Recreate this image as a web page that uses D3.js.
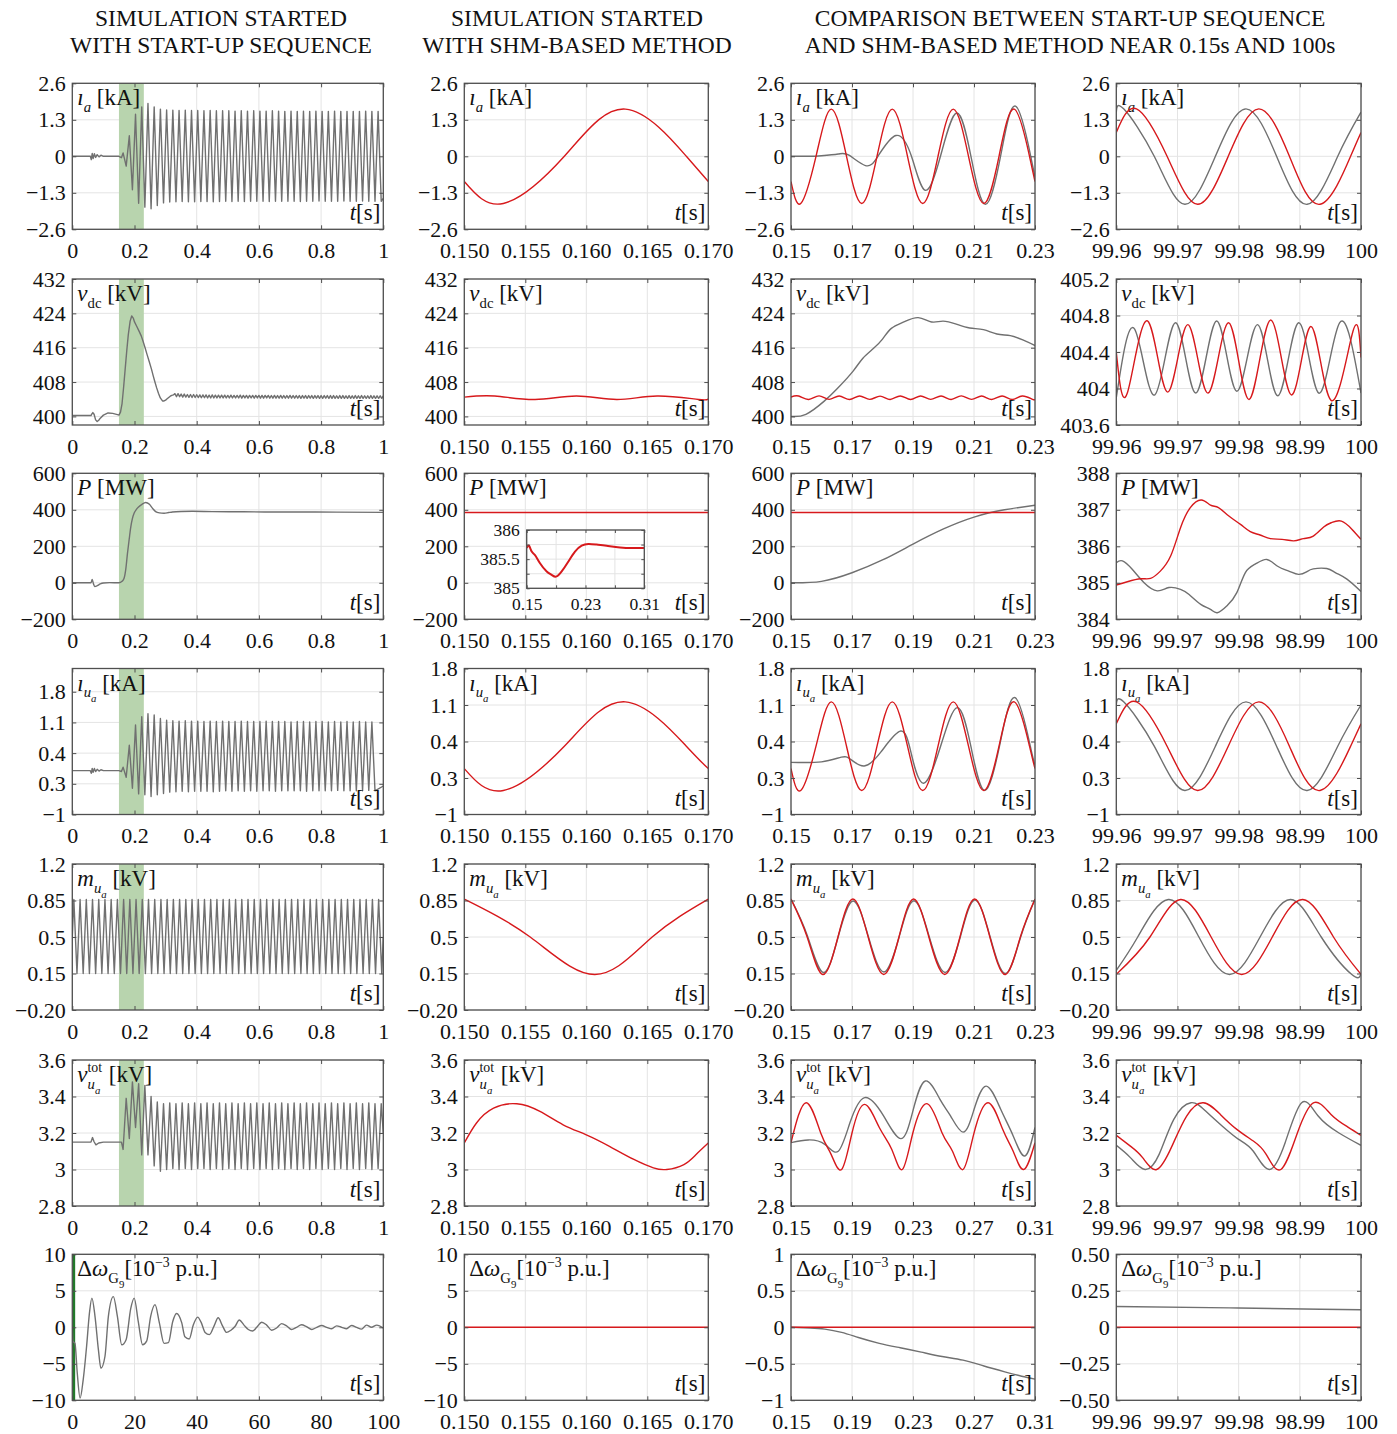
<!DOCTYPE html>
<html>
<head>
<meta charset="utf-8">
<script src="https://cdn.jsdelivr.net/npm/d3@7"></script>
<style>
  body { margin: 0; background: #fff; }
</style>
</head>
<body>
<div id="chart"></div>
<script>
// ---------- tick values and tick labels ----------
const xStartTicks = [0, 0.2, 0.4, 0.6, 0.8, 1]
const xStartLabels = ['0', '0.2', '0.4', '0.6', '0.8', '1']
const xLongTicks = [0, 20, 40, 60, 80, 100]
const xLongLabels = ['0', '20', '40', '60', '80', '100']
const xShmTicks = [0.15, 0.155, 0.16, 0.165, 0.17]
const xShmLabels = ['0.150', '0.155', '0.160', '0.165', '0.170']
const xCmpTicks = [0.15, 0.17, 0.19, 0.21, 0.23]
const xCmpLabels = ['0.15', '0.17', '0.19', '0.21', '0.23']
const xWideTicks = [0.15, 0.19, 0.23, 0.27, 0.31]
const xWideLabels = ['0.15', '0.19', '0.23', '0.27', '0.31']
const xEndTicks = [99.96, 99.97, 99.98, 99.99, 100]
const xEndLabels = ['99.96', '99.97', '99.98', '98.99', '100']

const iaTicks = [-2.6, -1.3, 0, 1.3, 2.6]
const iaLabels = ['\u22122.6', '\u22121.3', '0', '1.3', '2.6']
const vdcTicks = [400, 408, 416, 424, 432]
const vdcLabels = ['400', '408', '416', '424', '432']
const vdcEndTicks = [403.6, 404, 404.4, 404.8, 405.2]
const vdcEndLabels = ['403.6', '404', '404.4', '404.8', '405.2']
const pTicks = [-200, 0, 200, 400, 600]
const pLabels = ['\u2212200', '0', '200', '400', '600']
const pEndTicks = [384, 385, 386, 387, 388]
const pEndLabels = ['384', '385', '386', '387', '388']
const iuaTicks = [-1, -0.3, 0.4, 1.1, 1.8]
const iuaLabels = ['\u22121', '0.3', '0.4', '1.1', '1.8']
const mTicks = [-0.2, 0.15, 0.5, 0.85, 1.2]
const mLabels = ['\u22120.20', '0.15', '0.5', '0.85', '1.2']
const vtotTicks = [2.8, 3, 3.2, 3.4, 3.6]
const vtotLabels = ['2.8', '3', '3.2', '3.4', '3.6']
const dwTicks = [-10, -5, 0, 5, 10]
const dwLabels = ['\u221210', '\u22125', '0', '5', '10']
const dwCmpTicks = [-1, -0.5, 0, 0.5, 1]
const dwCmpLabels = ['\u22121', '\u22120.5', '0', '0.5', '1']
const dwEndTicks = [-0.5, -0.25, 0, 0.25, 0.5]
const dwEndLabels = ['\u22120.50', '\u22120.25', '0', '0.25', '0.50']
const insetXTicks = [0.15, 0.19, 0.23, 0.27, 0.31]
const insetXLabels = ['0.15', '', '0.23', '', '0.31']
const insetYTicks = [385, 385.25, 385.5, 385.75, 386]
const insetYLabels = ['385', '', '385.5', '', '386']

// ---------- column 1: start-up sequence ----------
const bandT = [0.15, 0.23]
const oscT0 = 0.1733   // first extremum read after the band begins
const oscStep = 0.01   // half period of the 50 Hz waveforms

const iaStartPre = [[0,0],[0.058,0],[0.061,-0.12],[0.064,0.1],[0.067,-0.08],[0.071,0.09],[0.075,-0.04],[0.08,0.06],[0.086,-0.02],[0.092,0.04],[0.1,0],[0.15,0],[0.158,-0.05],[0.1633,0.12]]
const iaStartOsc = [-0.35,0.73,-1.19,1.5,-1.67,1.76,-1.81,1.88,-1.87,1.76,-1.75,1.68,-1.66,1.65,-1.63,
  1.64,-1.62,1.63,-1.61,1.64,-1.62,1.63,-1.62,1.63,-1.61,1.62,-1.61,1.63,-1.62,1.62,-1.61,1.62,-1.6,1.62,-1.61,
  1.61,-1.6,1.62,-1.61,1.61,-1.6,1.62,-1.6,1.61,-1.6,1.61,-1.61,1.62,-1.6,1.61,-1.6,1.6,-1.6,1.61,-1.6,
  1.6,-1.61,1.61,-1.6,1.6,-1.6,1.61,-1.59,1.6,-1.6,1.6,-1.6,1.61,-1.6,1.6,-1.59,1.6,-1.6,1.6,-1.6,
  1.6,-1.59,1.61,-1.6,1.6,-1.6,1.6,-1.6]
const iaStartEnd = [[1, -1.5]]

const vdcStartPre = [[0,400.2],[0.06,400.2],[0.063,400.6],[0.066,400.9],[0.07,400.5],[0.075,399.2],[0.08,398.8],[0.085,399.1],[0.09,399.6],[0.1,400.3],[0.115,400.8],[0.13,400.7],[0.145,400.4],[0.15,400.3],[0.155,401],[0.16,403],[0.165,406.8],[0.17,411],[0.175,415.2],[0.18,419],[0.186,422.2],[0.191,423.4],[0.196,422.9],[0.2,422],[0.207,421],[0.215,419.8],[0.222,418.7],[0.228,417.4],[0.234,416],[0.24,414.5],[0.248,412.6],[0.255,410.9],[0.26,409.5],[0.265,408.2],[0.271,406.7],[0.277,405.4],[0.283,404.3],[0.29,403.6],[0.295,403.6],[0.3,403.8],[0.305,404.1],[0.31,404.4],[0.315,404.7],[0.32,404.9],[0.325,405.0]]
const vdcRippleT0 = 0.33
const vdcRippleStep = 0.005
const vdcStartRipple = [405.3,404.6,405.3,404.6,405.2,404.5,405.2,404.5,405.1,404.45,405.1,404.4,405.1,404.4,405.05,404.4,405.0,404.35,405.0,404.35,
  405.0,404.3,404.95,404.3,405.0,404.3,404.95,404.3,404.95,404.3,404.95,404.3,404.95,404.3,404.9,404.3,404.95,404.3,404.9,404.3,
  404.9,404.3,404.95,404.25,404.9,404.3,404.9,404.25,404.9,404.3,404.9,404.25,404.9,404.3,404.9,404.25,404.9,404.25,404.9,404.3,
  404.9,404.25,404.85,404.25,404.9,404.25,404.85,404.25,404.9,404.25,404.85,404.25,404.85,404.25,404.9,404.25,404.85,404.25,404.85,404.25,
  404.85,404.2,404.85,404.25,404.85,404.2,404.85,404.25,404.85,404.2,404.85,404.25,404.85,404.2,404.85,404.2,404.85,404.25,404.85,404.2,
  404.85,404.2,404.85,404.2,404.8,404.2,404.85,404.2,404.85,404.2,404.8,404.2,404.85,404.2,404.8,404.2,404.85,404.2,404.8,404.2,
  404.85,404.2,404.8,404.2,404.8,404.2,404.85,404.2,404.8,404.2,404.8,404.2,404.8,404.2,404.8]

const pStart = [[0,0],[0.06,0],[0.064,18],[0.068,-5],[0.072,-20],[0.08,-16],[0.09,-6],[0.1,-1],[0.12,1],[0.15,0],[0.16,8],[0.1665,25],[0.172,75],[0.1773,160],[0.183,240],[0.188,305],[0.193,350],[0.199,382],[0.206,402],[0.213,415],[0.224,430],[0.236,440],[0.248,430],[0.258,408],[0.268,390],[0.28,383],[0.295,381],[0.31,385],[0.322,388],[0.35,391],[0.386,392],[0.45,390],[0.55,389],[0.65,388],[0.75,388],[0.85,387],[1,386]]

const iuaStartPre = [[0,0],[0.058,0],[0.061,-0.06],[0.064,0.05],[0.067,-0.04],[0.071,0.05],[0.075,-0.02],[0.08,0.03],[0.086,-0.01],[0.092,0.02],[0.1,0],[0.15,0],[0.158,-0.02],[0.1633,0.08]]
const iuaStartOsc = [-0.15,0.58,-0.4,1.04,-0.53,1.23,-0.55,1.3,-0.59,1.27,-0.55,1.19,-0.52,1.15,-0.49,
  1.14,-0.48,1.13,-0.47,1.14,-0.48,1.13,-0.47,1.13,-0.47,1.12,-0.47,1.13,-0.48,1.12,-0.47,1.13,-0.46,1.12,-0.47,
  1.12,-0.46,1.13,-0.47,1.12,-0.46,1.12,-0.47,1.12,-0.46,1.13,-0.46,1.12,-0.47,1.12,-0.46,1.12,-0.46,1.11,-0.46,
  1.12,-0.46,1.12,-0.47,1.11,-0.46,1.12,-0.46,1.12,-0.46,1.11,-0.46,1.12,-0.45,1.11,-0.46,1.12,-0.46,
  1.11,-0.46,1.12,-0.46,1.11,-0.45,1.11,-0.46]
const iuaStartEnd = [[1, -0.35]]

const mStartT0 = 0.005
const mStartOsc = [0.86,0.15,0.86,0.15,0.86,0.15,0.86,0.15,0.86,0.15,0.86,0.15,0.86,0.15,0.86,0.15,0.86,0.15,0.86,0.15,
  0.86,0.15,0.86,0.15,0.86,0.15,0.86,0.15,0.86,0.15,0.86,0.15,0.86,0.15,0.86,0.15,0.86,0.15,0.86,0.15,
  0.86,0.15,0.86,0.15,0.86,0.15,0.86,0.15,0.86,0.15,0.86,0.15,0.86,0.15,0.86,0.15,0.86,0.15,0.86,0.15,
  0.86,0.15,0.86,0.15,0.86,0.15,0.86,0.15,0.86,0.15,0.86,0.15,0.86,0.15,0.86,0.15,0.86,0.15,0.86,0.15,
  0.86,0.15,0.86,0.15,0.86,0.15,0.86,0.15,0.86,0.15,0.86,0.15,0.86,0.15,0.86,0.15,0.86,0.15,0.86,0.15]
const mStartEnds = [[0, 0.5], [1, 0.5]]

const vtotStartPre = [[0,3.15],[0.06,3.15],[0.065,3.175],[0.07,3.152],[0.076,3.135],[0.085,3.145],[0.1,3.15],[0.15,3.15],[0.158,3.15],[0.1633,3.11]]
const vtotStartOsc = [3.39,3.17,3.48,3.23,3.47,3.08,3.46,3.08,3.4,3.02,3.37,2.99,3.36,3.0,
  3.365,3.005,3.36,3.0,3.365,3.005,3.36,3.0,3.365,3.005,
  3.36,3.005,3.365,3.0,3.36,3.005,3.365,3.0,3.36,3.005,
  3.365,3.0,3.36,3.005,3.365,3.0,3.36,3.005,3.365,3.0,
  3.36,3.005,3.365,3.0,3.36,3.005,3.365,3.0,3.36,3.005,
  3.365,3.0,3.36,3.005,3.365,3.0,3.36,3.005,3.365,3.0,
  3.36,3.005,3.365,3.0,3.36,3.005,3.365,3.0,3.36,3.005,
  3.365,3.0,3.36,3.005,3.365,3.0,3.36,3.005,3.36]
const vtotStartEnd = [[1, 3.2]]

const dwStart = [[0,0],[0.2,-1.9],[0.86,-2.2],[1.6,-6.3],[2.5,-9.7],[3.5,-7.2],[4.6,-2.6],[5.5,1.9],[6.3,4.0],[7.3,1.5],[8.4,-3.1],[9.2,-5.6],[10.5,-4.0],[11.6,1.5],[13.2,4.2],[14.5,1.5],[15.9,-2.4],[17.3,-1.7],[18.8,2.6],[19.9,4.0],[21.2,0.8],[22.6,-2.4],[23.9,-1.9],[25.2,1.5],[26.6,3.1],[28,0.6],[29.5,-2.2],[30.9,-2.1],[32.3,0.8],[33.5,1.9],[35.2,0.6],[36.2,-1.3],[37.6,-1.6],[38.9,0.3],[40.3,1.4],[41.4,0.7],[42.7,-0.7],[44.1,-1.0],[45.6,0.2],[46.9,1.3],[48.3,0.2],[49.6,-0.7],[51,-0.4],[52.3,0.1],[53.7,1.0],[55.2,0.3],[56.6,-0.3],[58,-0.5],[59.3,0],[60.9,0.7],[62.5,0.3],[64.1,-0.4],[65.7,-0.1],[67.3,0.5],[68.9,0.2],[70.5,-0.3],[72.1,0],[73.7,0.35],[75.3,0.1],[77,-0.3],[78.6,0],[80.2,0.25],[81.8,0],[83.4,-0.2],[85,0.2],[86.6,0],[88.2,-0.2],[89.8,0.25],[91.4,0],[93,-0.25],[94.6,0.3],[96.2,0],[97.9,0.3],[100,-0.1]]

// ---------- column 2: SHM-based start ----------
const iaShm = [[0.15,-0.9],[0.1532,-1.68],[0.1582,0],[0.1632,1.68],[0.1682,0],[0.17,-0.9]]
const vdcShm = [[0.15,404.5],[0.1525,404.75],[0.1558,403.95],[0.1592,404.75],[0.1625,403.95],[0.1658,404.75],[0.1692,403.95],[0.17,404.1]]
const pShm = [[0.15,385.6],[0.17,385.6]]
const pShmInset = [[0.15,385.7],[0.1509,385.71],[0.1532,385.73],[0.1568,385.63],[0.1613,385.57],[0.1681,385.43],[0.1772,385.29],[0.184,385.23],[0.1899,385.2],[0.1976,385.29],[0.2067,385.46],[0.2157,385.63],[0.2248,385.73],[0.2339,385.76],[0.2452,385.75],[0.2588,385.73],[0.2769,385.7],[0.295,385.69],[0.31,385.69]]
const iuaShm = [[0.15,-0.12],[0.1532,-0.54],[0.1582,0.31],[0.1632,1.16],[0.1682,0.31],[0.17,-0.12]]
const mShm = [[0.15,0.864],[0.1554,0.5],[0.1607,0.14],[0.1654,0.5],[0.17,0.864]]
const vtotShm = [[0.15,3.145],[0.151,3.255],[0.1524,3.336],[0.1543,3.36],[0.1562,3.318],[0.1581,3.245],[0.16,3.19],[0.1619,3.127],[0.1639,3.055],[0.1655,3.009],[0.1666,3.0],[0.168,3.027],[0.169,3.082],[0.17,3.145]]
const dwShm = [[0.15,0],[0.17,0]]

// ---------- column 3: comparison near 0.15 s ----------
const iaCmpStart = [[0.15,0],[0.156,0],[0.16,0.02],[0.1655,0.08],[0.169,0.04],[0.1744,-0.33],[0.1785,0],[0.1844,0.74],[0.1895,0],[0.194,-1.21],[0.199,0],[0.2043,1.54],[0.209,0],[0.2137,-1.71],[0.2187,0],[0.2236,1.79],[0.2286,0],[0.23,-0.75]]
const iaCmpShm = [[0.15,-0.9],[0.1532,-1.68],[0.1582,0],[0.1632,1.68],[0.1682,0],[0.1732,-1.68],[0.1782,0],[0.1832,1.68],[0.1882,0],[0.1932,-1.68],[0.1982,0],[0.2032,1.68],[0.2082,0],[0.2132,-1.68],[0.2182,0],[0.2232,1.68],[0.2282,0],[0.23,-0.9]]
const vdcCmpStart = [[0.15,400],[0.1549,400.5],[0.1608,403.5],[0.1652,406.5],[0.1703,410.5],[0.1735,413.5],[0.177,415.8],[0.18,418],[0.1829,420.5],[0.187,422],[0.1917,423],[0.1961,422],[0.1998,422.2],[0.2042,421.5],[0.2086,420.6],[0.2131,420.2],[0.2175,419.2],[0.2219,418.8],[0.226,417.8],[0.23,416.5]]
const vdcCmpShm = [[0.15,404.5],[0.1525,404.75],[0.1558,403.95],[0.1592,404.78],[0.1625,403.97],[0.1658,404.74],[0.1692,403.93],[0.1725,404.76],[0.1758,403.96],[0.1792,404.73],[0.1825,403.95],[0.1858,404.77],[0.1892,403.94],[0.1925,404.75],[0.1958,403.97],[0.1992,404.74],[0.2025,403.95],[0.2058,404.78],[0.2092,403.96],[0.2125,404.74],[0.2158,403.94],[0.2192,404.76],[0.2225,403.95],[0.2258,404.75],[0.2292,403.96],[0.23,404.05]]
const pCmpStart = [[0.15,0],[0.16,8],[0.17,55],[0.18,125],[0.19,212],[0.2,295],[0.21,360],[0.22,400],[0.23,425]]
const pCmpShm = [[0.15,385.6],[0.23,385.6]]
const iuaCmpStart = [[0.15,0],[0.16,0.01],[0.1665,0.1],[0.1695,0.06],[0.174,-0.07],[0.1795,0.2],[0.186,0.6],[0.1895,0.15],[0.1935,-0.4],[0.199,0.3],[0.2045,1.05],[0.209,0.3],[0.2135,-0.54],[0.2185,0.35],[0.2235,1.24],[0.2285,0.3],[0.23,-0.05]]
const iuaCmpShm = [[0.15,-0.12],[0.1532,-0.54],[0.1582,0.31],[0.1632,1.16],[0.1682,0.31],[0.1732,-0.54],[0.1782,0.31],[0.1832,1.16],[0.1882,0.31],[0.1932,-0.54],[0.1982,0.31],[0.2032,1.16],[0.2082,0.31],[0.2132,-0.54],[0.2182,0.31],[0.2232,1.16],[0.2282,0.31],[0.23,-0.12]]
const mCmpStart = [[0.15,0.864],[0.1554,0.51],[0.1606,0.16],[0.1655,0.505],[0.1704,0.845],[0.1754,0.5],[0.1805,0.165],[0.1855,0.505],[0.1903,0.848],[0.1953,0.505],[0.2005,0.16],[0.2055,0.5],[0.2103,0.855],[0.2153,0.5],[0.2204,0.15],[0.2253,0.5],[0.23,0.862]]
const mCmpShm = [[0.15,0.864],[0.1553,0.5],[0.1604,0.14],[0.1654,0.5],[0.1703,0.865],[0.1753,0.5],[0.1804,0.14],[0.1854,0.5],[0.1902,0.865],[0.1952,0.5],[0.2004,0.14],[0.2054,0.5],[0.2102,0.865],[0.2152,0.5],[0.2203,0.14],[0.2252,0.5],[0.23,0.864]]
const vtotCmpStart = [[0.15,3.147],[0.1613,3.162],[0.1722,3.138],[0.181,3.1],[0.1887,3.257],[0.1983,3.394],[0.2107,3.294],[0.2222,3.169],[0.2299,3.32],[0.2381,3.485],[0.2477,3.384],[0.2546,3.294],[0.2628,3.205],[0.2697,3.32],[0.2779,3.457],[0.2875,3.33],[0.2957,3.184],[0.3034,3.074],[0.31,3.23]]
const vtotCmpShm = [[0.15,3.147],[0.1599,3.366],[0.1695,3.2],[0.1763,3.083],[0.1832,3.0],[0.19,3.2],[0.1983,3.357],[0.2079,3.23],[0.2161,3.11],[0.223,3.0],[0.2299,3.2],[0.2395,3.36],[0.2491,3.2],[0.2559,3.1],[0.2628,3.0],[0.2697,3.19],[0.2792,3.366],[0.2888,3.22],[0.2957,3.1],[0.3026,3.0],[0.31,3.147]]
const dwCmpStart = [[0.15,0],[0.1626,-0.01],[0.1722,-0.025],[0.1832,-0.07],[0.1942,-0.14],[0.2079,-0.22],[0.2216,-0.28],[0.2354,-0.34],[0.2491,-0.4],[0.2628,-0.45],[0.2765,-0.53],[0.2902,-0.61],[0.3012,-0.67],[0.31,-0.71]]
const dwCmpShm = [[0.15,0],[0.31,0]]

// ---------- column 4: comparison near 100 s ----------
const iaEndStart = [[99.96,1.57],[99.9612,1.69],[99.9662,0],[99.9712,-1.71],[99.9762,0],[99.9812,1.69],[99.9862,0],[99.9912,-1.71],[99.9962,0],[100,1.57]]
const iaEndShm = [[99.96,0.85],[99.9633,1.69],[99.9683,0],[99.9733,-1.71],[99.9783,0],[99.9833,1.69],[99.9883,0],[99.9933,-1.71],[99.9983,0],[100,0.85]]
const vdcEndStart = [[99.96,403.9],[99.963,404.65],[99.9663,403.93],[99.9697,404.72],[99.973,403.95],[99.9764,404.74],[99.9797,403.97],[99.9831,404.7],[99.9864,403.92],[99.9898,404.72],[99.9931,403.95],[99.9965,404.72],[100,403.95]]
const vdcEndShm = [[99.96,404.4],[99.9618,403.95],[99.9651,404.74],[99.9684,403.96],[99.9717,404.7],[99.975,403.95],[99.9784,404.72],[99.9817,403.88],[99.9852,404.75],[99.9886,403.93],[99.9918,404.68],[99.9951,403.87],[99.9987,404.63],[100,404.34]]
const pEndStart = [[99.96,385.55],[99.961,385.6],[99.9626,385.37],[99.9645,385.01],[99.9667,384.78],[99.9686,384.87],[99.9705,384.82],[99.9719,384.68],[99.9738,384.41],[99.9754,384.27],[99.9765,384.18],[99.9781,384.37],[99.9797,384.73],[99.9811,385.28],[99.9827,385.51],[99.9846,385.64],[99.9863,385.46],[99.9882,385.32],[99.9898,385.23],[99.9911,385.3],[99.9922,385.38],[99.9944,385.39],[99.9958,385.28],[99.9977,385.1],[100,384.76]]
const pEndShm = [[99.96,384.94],[99.9618,385.03],[99.964,385.11],[99.9656,385.12],[99.9672,385.32],[99.9689,385.74],[99.9705,386.51],[99.9721,387.06],[99.9739,387.27],[99.9754,387.13],[99.9767,387.06],[99.9784,386.83],[99.9803,386.6],[99.9819,386.4],[99.9835,386.31],[99.9852,386.21],[99.9871,386.19],[99.989,386.15],[99.9906,386.21],[99.9922,386.28],[99.9939,386.53],[99.9952,386.65],[99.9968,386.69],[99.9985,386.47],[100,386.19]]
const iuaEndStart = [[99.96,1.1],[99.9612,1.16],[99.9662,0.31],[99.9712,-0.54],[99.9762,0.31],[99.9812,1.16],[99.9862,0.31],[99.9912,-0.54],[99.9962,0.31],[100,1.1]]
const iuaEndShm = [[99.96,0.74],[99.9633,1.16],[99.9683,0.31],[99.9733,-0.54],[99.9783,0.31],[99.9833,1.16],[99.9883,0.31],[99.9933,-0.54],[99.9983,0.31],[100,0.74]]
const mEndStart = [[99.96,0.18],[99.9635,0.5],[99.9685,0.86],[99.9735,0.5],[99.9785,0.14],[99.9835,0.5],[99.9885,0.86],[99.9935,0.5],[99.9985,0.14],[100,0.145]]
const mEndShm = [[99.96,0.142],[99.9655,0.5],[99.9705,0.86],[99.9755,0.5],[99.9805,0.14],[99.9855,0.5],[99.9905,0.86],[99.9955,0.5],[100,0.142]]
const vtotEndStart = [[99.96,3.132],[99.9623,3.065],[99.9647,3.0],[99.967,3.083],[99.9694,3.275],[99.9722,3.366],[99.9746,3.32],[99.9773,3.238],[99.98,3.165],[99.9824,3.1],[99.985,3.0],[99.9876,3.147],[99.9903,3.366],[99.993,3.293],[99.9964,3.2],[100,3.132]]
const vtotEndShm = [[99.96,3.187],[99.9623,3.128],[99.9643,3.065],[99.9666,3.0],[99.9691,3.128],[99.9715,3.293],[99.9742,3.366],[99.977,3.302],[99.9797,3.22],[99.9824,3.156],[99.9845,3.083],[99.9869,3.0],[99.9896,3.2],[99.9923,3.366],[99.9951,3.302],[99.9978,3.234],[100,3.187]]
const dwEndStart = [[99.96,0.142],[99.98,0.132],[100,0.12]]
const dwEndShm = [[99.96,0],[100,0]]

const titles = [
  ['SIMULATION STARTED', 'WITH START-UP SEQUENCE'],
  ['SIMULATION STARTED', 'WITH SHM-BASED METHOD'],
  ['COMPARISON BETWEEN START-UP SEQUENCE', 'AND SHM-BASED METHOD NEAR 0.15s AND 100s']
]

// variable labels: [text, style, level, stacking flag]
const rowLabels = [
  [['\u0131', 'i'], ['a', 'i', 'sub'], [' [kA]']],
  [['v', 'i'], ['dc', 'r', 'sub'], [' [kV]']],
  [['P', 'i'], [' [MW]']],
  [['\u0131', 'i'], ['u', 'i', 'sub'], ['a', 'i', 'sub2'], [' [kA]']],
  [['m', 'i'], ['u', 'i', 'sub'], ['a', 'i', 'sub2'], [' [kV]']],
  [['v', 'i'], ['tot', 'r', 'sup'], ['u', 'i', 'sub', 'back'], ['a', 'i', 'sub2'], [' [kV]', 'r', 'base', 'after']],
  [['\u0394'], ['\u03c9', 'i'], ['G', 'r', 'sub'], ['9', 'r', 'sub2'], ['[10'], ['\u22123', 'r', 'sup'], [' p.u.]']]
]

// ---------- assemble column 1 series ----------
const osc = (vals, t0, step) => vals.map((v, k) => [t0 + k * step, v])
const iaStart = iaStartPre.concat(osc(iaStartOsc, oscT0, oscStep), iaStartEnd)
const vdcStart = vdcStartPre.concat(osc(vdcStartRipple, vdcRippleT0, vdcRippleStep))
const iuaStart = iuaStartPre.concat(osc(iuaStartOsc, oscT0, oscStep), iuaStartEnd)
const mStart = [mStartEnds[0]].concat(osc(mStartOsc, mStartT0, oscStep), [mStartEnds[1]])
const vtotStart = vtotStartPre.concat(osc(vtotStartOsc, oscT0, oscStep), vtotStartEnd)

// ---------- layout & style ----------
const W = 1397, H = 1434
const colX = [72.3, 464.3, 791, 1116.3]
const colW = [311, 244, 244, 244.7]
const rowY = [83.3, 279, 473.3, 668.5, 864, 1060, 1254.3]
const rowH = 146
const titleX = [221, 577, 1070]
const FONT = "'Liberation Serif', 'Times New Roman', serif"
const GRAY = '#707070', RED = '#d7191c', GRID = '#e4e4e4', AXIS = '#4f4f4f', INK = '#111'
const BAND = '#b8d4ae', BAND_DARK = '#22782a'
const LEVEL = { base: [0, 1], sub: [0.3, 0.64], sub2: [0.5, 0.47], sup: [-0.42, 0.6] }

const axis = (ticks, labels, dom) => ({ ticks, labels, dom: dom || d3.extent(ticks) })
const xStart = axis(xStartTicks, xStartLabels), xLong = axis(xLongTicks, xLongLabels)
const xShm = axis(xShmTicks, xShmLabels), xCmp = axis(xCmpTicks, xCmpLabels)
const xWide = axis(xWideTicks, xWideLabels), xEnd = axis(xEndTicks, xEndLabels)
const yIa = axis(iaTicks, iaLabels)
const yVdc = axis(vdcTicks, vdcLabels, [398, 432]), yVdcEnd = axis(vdcEndTicks, vdcEndLabels)
const yP = axis(pTicks, pLabels), yPEnd = axis(pEndTicks, pEndLabels)
const yIuaStart = axis(iuaTicks, iuaLabels, [-1, 2.33]), yIua = axis(iuaTicks, iuaLabels)
const yM = axis(mTicks, mLabels), yVtot = axis(vtotTicks, vtotLabels)
const yDw = axis(dwTicks, dwLabels), yDwCmp = axis(dwCmpTicks, dwCmpLabels), yDwEnd = axis(dwEndTicks, dwEndLabels)

const L = d3.curveLinear, M = d3.curveMonotoneX, N = d3.curveNatural
const panels = [
  { r: 0, c: 0, x: xStart, y: yIa, band: true, s: [[iaStart, GRAY, L]] },
  { r: 0, c: 1, x: xShm, y: yIa, s: [[iaShm, RED, N]] },
  { r: 0, c: 2, x: xCmp, y: yIa, s: [[iaCmpStart, GRAY, N], [iaCmpShm, RED, N]] },
  { r: 0, c: 3, x: xEnd, y: yIa, s: [[iaEndStart, GRAY, N], [iaEndShm, RED, N]] },
  { r: 1, c: 0, x: xStart, y: yVdc, band: true, s: [[vdcStart, GRAY, L]] },
  { r: 1, c: 1, x: xShm, y: yVdc, s: [[vdcShm, RED, N]] },
  { r: 1, c: 2, x: xCmp, y: yVdc, s: [[vdcCmpStart, GRAY, N], [vdcCmpShm, RED, N]] },
  { r: 1, c: 3, x: xEnd, y: yVdcEnd, s: [[vdcEndStart, GRAY, N], [vdcEndShm, RED, N]] },
  { r: 2, c: 0, x: xStart, y: yP, band: true, s: [[pStart, GRAY, M]] },
  { r: 2, c: 1, x: xShm, y: yP, s: [[pShm, RED, L]], inset: true },
  { r: 2, c: 2, x: xCmp, y: yP, s: [[pCmpStart, GRAY, N], [pCmpShm, RED, L]] },
  { r: 2, c: 3, x: xEnd, y: yPEnd, s: [[pEndStart, GRAY, N], [pEndShm, RED, N]] },
  { r: 3, c: 0, x: xStart, y: yIuaStart, band: true, s: [[iuaStart, GRAY, L]] },
  { r: 3, c: 1, x: xShm, y: yIua, s: [[iuaShm, RED, N]] },
  { r: 3, c: 2, x: xCmp, y: yIua, s: [[iuaCmpStart, GRAY, N], [iuaCmpShm, RED, N]] },
  { r: 3, c: 3, x: xEnd, y: yIua, s: [[iuaEndStart, GRAY, N], [iuaEndShm, RED, N]] },
  { r: 4, c: 0, x: xStart, y: yM, band: true, s: [[mStart, GRAY, L]] },
  { r: 4, c: 1, x: xShm, y: yM, s: [[mShm, RED, N]] },
  { r: 4, c: 2, x: xCmp, y: yM, s: [[mCmpStart, GRAY, N], [mCmpShm, RED, N]] },
  { r: 4, c: 3, x: xEnd, y: yM, s: [[mEndStart, GRAY, N], [mEndShm, RED, N]] },
  { r: 5, c: 0, x: xStart, y: yVtot, band: true, s: [[vtotStart, GRAY, L]] },
  { r: 5, c: 1, x: xShm, y: yVtot, s: [[vtotShm, RED, N]] },
  { r: 5, c: 2, x: xWide, y: yVtot, s: [[vtotCmpStart, GRAY, N], [vtotCmpShm, RED, N]] },
  { r: 5, c: 3, x: xEnd, y: yVtot, s: [[vtotEndStart, GRAY, N], [vtotEndShm, RED, N]] },
  { r: 6, c: 0, x: xLong, y: yDw, band: true, s: [[dwStart, GRAY, M]] },
  { r: 6, c: 1, x: xShm, y: yDw, s: [[dwShm, RED, L]] },
  { r: 6, c: 2, x: xWide, y: yDwCmp, s: [[dwCmpStart, GRAY, N], [dwCmpShm, RED, L]] },
  { r: 6, c: 3, x: xEnd, y: yDwEnd, s: [[dwEndStart, GRAY, M], [dwEndShm, RED, L]] }
]

const svg = d3.select('#chart').append('svg')
  .attr('width', W).attr('height', H)
  .attr('font-family', FONT)

// Titles
titles.forEach((lines, i) => {
  svg.append('g').selectAll('text').data(lines).join('text')
    .attr('x', titleX[i]).attr('y', (d, k) => 26 + k * 27)
    .attr('text-anchor', 'middle').attr('font-size', 23.5).attr('fill', INK)
    .text(d => d)
})

function drawGrid(g, x, y, w, h, xa, ya) {
  g.append('rect').attr('width', w).attr('height', h).attr('fill', '#fff')
  g.append('g').selectAll('line').data(xa.ticks).join('line')
    .attr('x1', d => x(d)).attr('x2', d => x(d)).attr('y1', 0).attr('y2', h)
    .attr('stroke', GRID).attr('stroke-width', 1)
  g.append('g').selectAll('line').data(ya.ticks).join('line')
    .attr('y1', d => y(d)).attr('y2', d => y(d)).attr('x1', 0).attr('x2', w)
    .attr('stroke', GRID).attr('stroke-width', 1)
}

function drawAxes(g, x, y, w, h, xa, ya, fs, padX, padY, tl) {
  const fmt = labels => (d, i) => labels[i]
  const gb = g.append('g').attr('transform', `translate(0,${h})`)
    .call(d3.axisBottom(x).tickValues(xa.ticks).tickFormat(fmt(xa.labels)).tickSizeInner(-tl).tickSizeOuter(0).tickPadding(padX))
  const gl = g.append('g')
    .call(d3.axisLeft(y).tickValues(ya.ticks).tickFormat(fmt(ya.labels)).tickSizeInner(-tl).tickSizeOuter(0).tickPadding(padY))
  g.append('g').call(d3.axisTop(x).tickValues(xa.ticks).tickFormat('').tickSizeInner(-tl).tickSizeOuter(0))
  g.append('g').attr('transform', `translate(${w},0)`)
    .call(d3.axisRight(y).tickValues(ya.ticks).tickFormat('').tickSizeInner(-tl).tickSizeOuter(0))
  g.selectAll('.domain').remove()
  g.selectAll('.tick line').attr('stroke', AXIS).attr('stroke-width', 1)
  ;[gb, gl].forEach(a => a.attr('font-family', FONT).attr('font-size', fs))
  g.selectAll('.tick text').attr('fill', INK)
  g.append('rect').attr('width', w).attr('height', h)
    .attr('fill', 'none').attr('stroke', AXIS).attr('stroke-width', 1.3)
}

function drawSeries(g, x, y, list, clipId, width) {
  const line = d3.line().x(d => x(d[0])).y(d => y(d[1]))
  list.forEach(([data, color, curve]) => {
    g.append('path').datum(data)
      .attr('clip-path', `url(#${clipId})`)
      .attr('fill', 'none').attr('stroke', color).attr('stroke-width', width)
      .attr('stroke-linejoin', 'round')
      .attr('d', line.curve(curve))
  })
}

function drawLabel(g, segs, x0, y0, fs) {
  const txt = g.append('text').attr('x', x0).attr('y', y0)
    .attr('font-size', fs).attr('fill', INK)
  let off = 0, supW = 0, stackW = 0, stacking = false
  segs.forEach(([s, style, lvl = 'base', flag]) => {
    const [o, k] = LEVEL[lvl]
    const ts = txt.append('tspan').text(s)
      .attr('font-size', fs * k)
      .attr('font-style', style === 'i' ? 'italic' : 'normal')
      .attr('dy', (o - off) * fs)
    off = o
    if (flag === 'back') { ts.attr('dx', -supW); stacking = true; stackW = 0 }
    if (flag === 'after') { ts.attr('dx', Math.max(0, supW - stackW) + 1); stacking = false }
    const w = ts.node().getComputedTextLength()
    if (lvl === 'sup') supW = w
    if (stacking) stackW += w
  })
}

panels.forEach((p, i) => {
  const w = colW[p.c], h = rowH
  const g = svg.append('g').attr('transform', `translate(${colX[p.c]},${rowY[p.r]})`)
  const x = d3.scaleLinear().domain(p.x.dom).range([0, w])
  const y = d3.scaleLinear().domain(p.y.dom).range([h, 0])
  const clipId = `clip${i}`
  g.append('clipPath').attr('id', clipId).append('rect').attr('width', w).attr('height', h)

  drawGrid(g, x, y, w, h, p.x, p.y)

  if (p.band) {
    const bw = x(bandT[1]) - x(bandT[0])
    g.append('rect')
      .attr('x', x(bandT[0])).attr('y', 0)
      .attr('width', Math.max(bw, 2.4)).attr('height', h)
      .attr('fill', bw < 2 ? BAND_DARK : BAND)
  }

  drawLabel(g, rowLabels[p.r], 5, 22, 23)
  drawSeries(g, x, y, p.s, clipId, 1.4)
  drawAxes(g, x, y, w, h, p.x, p.y, 22, 13, 6.5, 4)

  // t[s] tag, bottom right
  const tt = g.append('text').attr('x', w - 3).attr('y', h - 9)
    .attr('text-anchor', 'end').attr('font-size', 23).attr('fill', INK)
  tt.append('tspan').attr('font-style', 'italic').text('t')
  tt.append('tspan').text('[s]')

  if (p.inset) {
    const ix = 62.4, iy = 56.7, iw = 117.6, ih = 58.3
    const gi = g.append('g').attr('transform', `translate(${ix},${iy})`)
    const xa = axis(insetXTicks, insetXLabels), ya = axis(insetYTicks, insetYLabels)
    const xi = d3.scaleLinear().domain(xa.dom).range([0, iw])
    const yi = d3.scaleLinear().domain(ya.dom).range([ih, 0])
    gi.append('clipPath').attr('id', 'clipInset').append('rect').attr('width', iw).attr('height', ih)
    drawGrid(gi, xi, yi, iw, ih, xa, ya)
    drawSeries(gi, xi, yi, [[pShmInset, RED, N]], 'clipInset', 2)
    drawAxes(gi, xi, yi, iw, ih, xa, ya, 17.5, 9, 7, 3)
  }
})
</script>
</body>
</html>
